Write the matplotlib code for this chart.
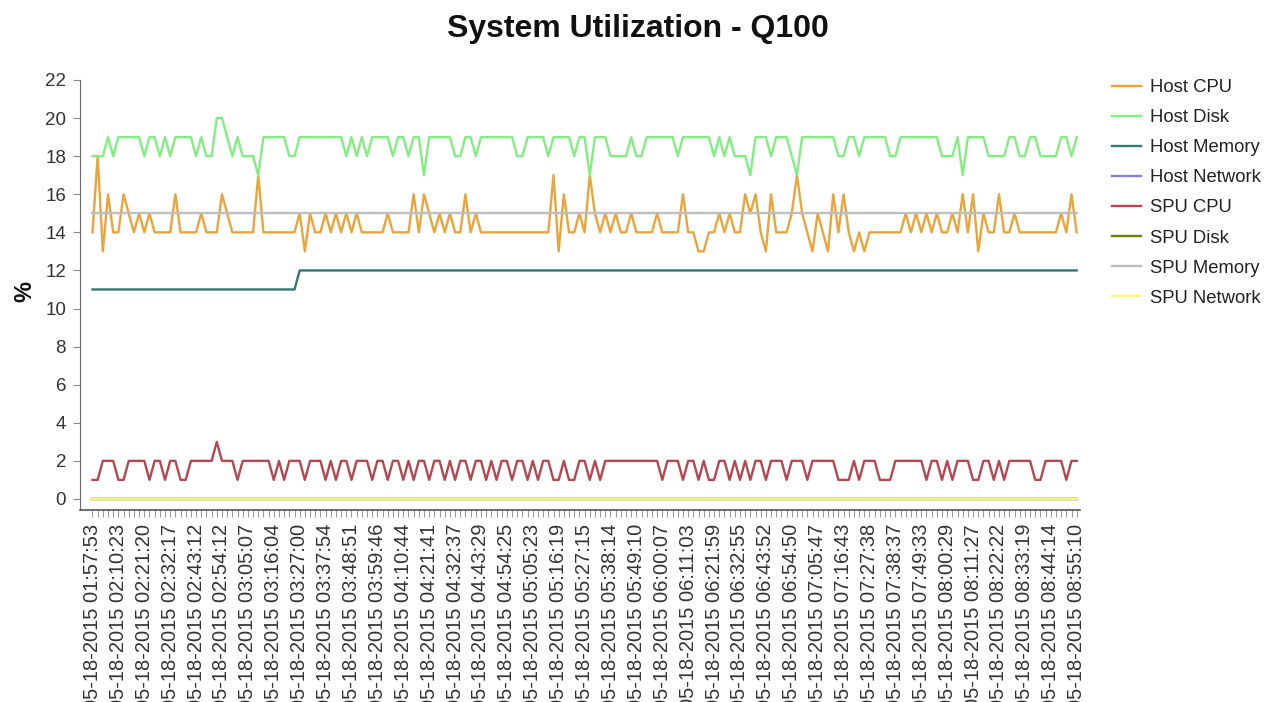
import matplotlib
matplotlib.use("Agg")
import matplotlib.pyplot as plt

plt.rcParams["font.family"] = ["Liberation Sans", "DejaVu Sans"]

# Timestamp labels shown on the x axis (one every 5 samples)
time_labels = [
    "05-18-2015 01:57:53", "05-18-2015 02:10:23", "05-18-2015 02:21:20",
    "05-18-2015 02:32:17", "05-18-2015 02:43:12", "05-18-2015 02:54:12",
    "05-18-2015 03:05:07", "05-18-2015 03:16:04", "05-18-2015 03:27:00",
    "05-18-2015 03:37:54", "05-18-2015 03:48:51", "05-18-2015 03:59:46",
    "05-18-2015 04:10:44", "05-18-2015 04:21:41", "05-18-2015 04:32:37",
    "05-18-2015 04:43:29", "05-18-2015 04:54:25", "05-18-2015 05:05:23",
    "05-18-2015 05:16:19", "05-18-2015 05:27:15", "05-18-2015 05:38:14",
    "05-18-2015 05:49:10", "05-18-2015 06:00:07", "05-18-2015 06:11:03",
    "05-18-2015 06:21:59", "05-18-2015 06:32:55", "05-18-2015 06:43:52",
    "05-18-2015 06:54:50", "05-18-2015 07:05:47", "05-18-2015 07:16:43",
    "05-18-2015 07:27:38", "05-18-2015 07:38:37", "05-18-2015 07:49:33",
    "05-18-2015 08:00:29", "05-18-2015 08:11:27", "05-18-2015 08:22:22",
    "05-18-2015 08:33:19", "05-18-2015 08:44:14", "05-18-2015 08:55:10",
]
label_every = 5

host_cpu = [
    14, 18, 13, 16, 14, 14, 16, 15, 14, 15,
    14, 15, 14, 14, 14, 14, 16, 14, 14, 14,
    14, 15, 14, 14, 14, 16, 15, 14, 14, 14,
    14, 14, 17, 14, 14, 14, 14, 14, 14, 14,
    15, 13, 15, 14, 14, 15, 14, 15, 14, 15,
    14, 15, 14, 14, 14, 14, 14, 15, 14, 14,
    14, 14, 16, 14, 16, 15, 14, 15, 14, 15,
    14, 14, 16, 14, 15, 14, 14, 14, 14, 14,
    14, 14, 14, 14, 14, 14, 14, 14, 14, 17,
    13, 16, 14, 14, 15, 14, 17, 15, 14, 15,
    14, 15, 14, 14, 15, 14, 14, 14, 14, 15,
    14, 14, 14, 14, 16, 14, 14, 13, 13, 14,
    14, 15, 14, 15, 14, 14, 16, 15, 16, 14,
    13, 16, 14, 14, 14, 15, 17, 15, 14, 13,
    15, 14, 13, 16, 14, 16, 14, 13, 14, 13,
    14, 14, 14, 14, 14, 14, 14, 15, 14, 15,
    14, 15, 14, 15, 14, 14, 15, 14, 16, 14,
    16, 13, 15, 14, 14, 16, 14, 14, 15, 14,
    14, 14, 14, 14, 14, 14, 14, 15, 14, 16,
    14,
]

host_disk = [
    18, 18, 18, 19, 18, 19, 19, 19, 19, 19,
    18, 19, 19, 18, 19, 18, 19, 19, 19, 19,
    18, 19, 18, 18, 20, 20, 19, 18, 19, 18,
    18, 18, 17, 19, 19, 19, 19, 19, 18, 18,
    19, 19, 19, 19, 19, 19, 19, 19, 19, 18,
    19, 18, 19, 18, 19, 19, 19, 19, 18, 19,
    19, 18, 19, 19, 17, 19, 19, 19, 19, 19,
    18, 18, 19, 19, 18, 19, 19, 19, 19, 19,
    19, 19, 18, 18, 19, 19, 19, 19, 18, 19,
    19, 19, 19, 18, 19, 19, 17, 19, 19, 19,
    18, 18, 18, 18, 19, 18, 18, 19, 19, 19,
    19, 19, 19, 18, 19, 19, 19, 19, 19, 19,
    18, 19, 18, 19, 18, 18, 18, 17, 19, 19,
    19, 18, 19, 19, 19, 18, 17, 19, 19, 19,
    19, 19, 19, 19, 18, 18, 19, 19, 18, 19,
    19, 19, 19, 19, 18, 18, 19, 19, 19, 19,
    19, 19, 19, 19, 18, 18, 18, 19, 17, 19,
    19, 19, 19, 18, 18, 18, 18, 19, 19, 18,
    18, 19, 19, 18, 18, 18, 18, 19, 19, 18,
    19,
]

host_memory = [11] * 40 + [12] * 151
host_network = [0] * 191

spu_cpu = [
    1, 1, 2, 2, 2, 1, 1, 2, 2, 2,
    2, 1, 2, 2, 1, 2, 2, 1, 1, 2,
    2, 2, 2, 2, 3, 2, 2, 2, 1, 2,
    2, 2, 2, 2, 2, 1, 2, 1, 2, 2,
    2, 1, 2, 2, 2, 1, 2, 1, 2, 2,
    1, 2, 2, 2, 1, 2, 2, 1, 2, 2,
    1, 2, 1, 2, 2, 1, 2, 2, 1, 2,
    1, 2, 2, 1, 2, 2, 1, 2, 1, 2,
    2, 1, 2, 2, 1, 2, 1, 2, 2, 1,
    1, 2, 1, 1, 2, 2, 1, 2, 1, 2,
    2, 2, 2, 2, 2, 2, 2, 2, 2, 2,
    1, 2, 2, 2, 1, 2, 2, 1, 2, 1,
    1, 2, 2, 1, 2, 1, 2, 1, 2, 2,
    1, 2, 2, 2, 1, 2, 2, 2, 1, 2,
    2, 2, 2, 2, 1, 1, 1, 2, 1, 2,
    2, 2, 1, 1, 1, 2, 2, 2, 2, 2,
    2, 1, 2, 2, 1, 2, 1, 2, 2, 2,
    1, 1, 2, 2, 1, 2, 1, 2, 2, 2,
    2, 2, 1, 1, 2, 2, 2, 2, 1, 2,
    2,
]
spu_disk = [0] * 191
spu_memory = [15] * 191
spu_network = [0] * 191

series = [
    ("Host CPU", host_cpu, "#E9A43C"),
    ("Host Disk", host_disk, "#82EE82"),
    ("Host Memory", host_memory, "#2E7B6D"),
    ("Host Network", host_network, "#8080D8"),
    ("SPU CPU", spu_cpu, "#B4474F"),
    ("SPU Disk", spu_disk, "#6C7D12"),
    ("SPU Memory", spu_memory, "#BEBEBE"),
    ("SPU Network", spu_network, "#F6F670"),
]

W, H = 1264, 702
fig = plt.figure(figsize=(W / 100, H / 100), dpi=100)
ax = fig.add_axes([80 / W, 1 - 510 / H, 1000 / W, 430 / H])

n = len(host_cpu)
x = list(range(n))
for name, vals, color in series:
    ax.plot(x, vals, color=color, lw=1.7, label=name, solid_joinstyle="round")

ax.set_xlim(-2.41, n - 1 + 0.64)
ax.set_ylim(-0.58, 22)
ax.set_yticks(range(0, 23, 2))
ax.tick_params(axis="y", length=5, width=0.8, color="#888888",
               labelsize=13.5, labelcolor="#333333", pad=5)

ax.set_xticks(x)
ax.set_xticklabels([time_labels[i // label_every] if i % label_every == 0 else ""
                    for i in x], rotation=90, va="top", ha="center")
ax.tick_params(axis="x", length=5, width=0.8, color="#999999",
               labelsize=14.5, labelcolor="#333333", pad=5)

for side in ("top", "right"):
    ax.spines[side].set_visible(False)
ax.spines["left"].set_color("#666666")
ax.spines["bottom"].set_color("#555555")
ax.spines["bottom"].set_linewidth(1.2)

fig.text(25 / W, 1 - 292 / H, "%", rotation=90, fontsize=17, fontweight="bold",
         ha="center", va="center", color="#111111")
fig.text(638 / W, 1 - 29 / H, "System Utilization - Q100", fontsize=23,
         fontweight="bold", ha="center", va="center", color="#111111")

leg = fig.legend(loc="upper left", bbox_to_anchor=(1112 / W, 1 - 79 / H),
                 frameon=False, fontsize=13.3, handlelength=1.55,
                 handletextpad=0.5, labelspacing=0.71, borderaxespad=0,
                 borderpad=0)
for t in leg.get_texts():
    t.set_color("#222222")

fig.savefig("out.png", dpi=100)
